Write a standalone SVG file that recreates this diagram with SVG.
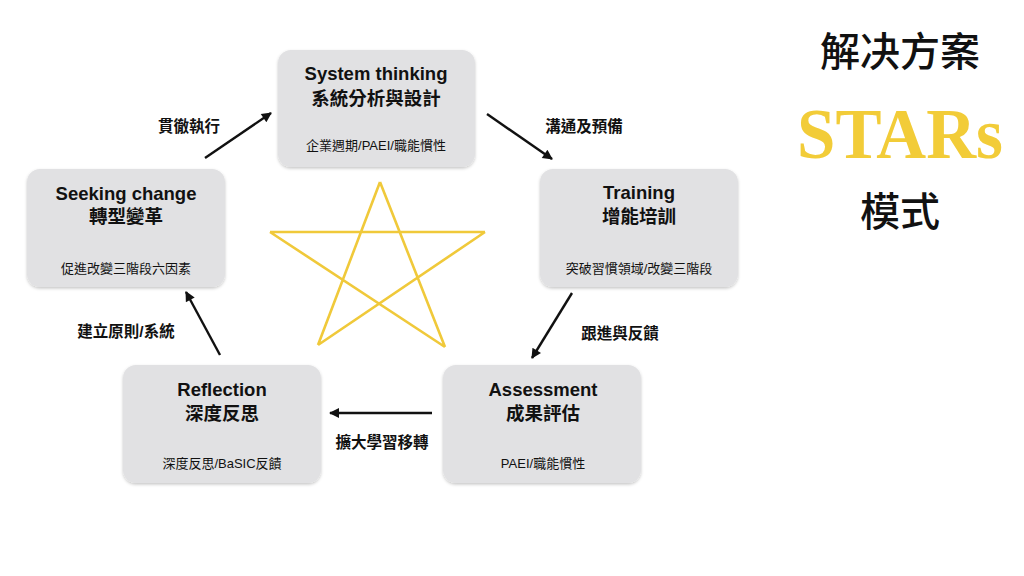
<svg xmlns="http://www.w3.org/2000/svg" width="1024" height="576" viewBox="0 0 1024 576">
<defs>
<filter id="sh" x="-10%" y="-10%" width="120%" height="130%">
<feDropShadow dx="0" dy="1.5" stdDeviation="1.5" flood-color="#000" flood-opacity="0.22"/>
</filter>
<marker id="ah" viewBox="0 0 10 10" refX="9" refY="5" markerWidth="12" markerHeight="10" orient="auto" markerUnits="userSpaceOnUse">
<path d="M0,0 L10,5 L0,10 z" fill="#111"/>
</marker>
</defs>
<style>
.box{fill:#e1e1e3;filter:url(#sh)}
.t{font-family:"Liberation Sans","Noto Sans CJK TC",sans-serif;font-weight:bold;font-size:18.5px;fill:#111;text-anchor:middle}
.s{font-family:"Liberation Sans","Noto Sans CJK TC",sans-serif;font-size:13px;fill:#111;text-anchor:middle}
.l{font-family:"Liberation Sans","Noto Sans CJK TC",sans-serif;font-weight:bold;font-size:15.5px;fill:#111;text-anchor:middle}
.c{stroke:#111;stroke-width:2.4;fill:none}
.star{stroke:#f0c93a;stroke-width:2.6;fill:none;stroke-linejoin:miter}
</style>
<rect width="1024" height="576" fill="#fff"/>

<g id="star">
<path class="star" d="M380,182 L318,345 M380,182 L445,347 M270,232 L485,232 M270,232 L445,347 M485,232 L318,345"/>
</g>

<g id="node-system">
<rect class="box" x="278" y="50" width="197" height="117" rx="13"/>
<text class="t" x="376" y="80">System thinking</text>
<text class="t" x="376" y="105">系統分析與設計</text>
<text class="s" x="376" y="150">企業週期/PAEI/職能慣性</text>
</g>

<g id="node-training">
<rect class="box" x="540" y="169" width="198" height="118" rx="13"/>
<text class="t" x="639" y="199">Training</text>
<text class="t" x="639" y="223">增能培訓</text>
<text class="s" x="639" y="273">突破習慣領域/改變三階段</text>
</g>

<g id="node-assessment">
<rect class="box" x="443" y="365" width="198" height="118" rx="13"/>
<text class="t" x="543" y="396">Assessment</text>
<text class="t" x="543" y="420">成果評估</text>
<text class="s" x="543" y="468">PAEI/職能慣性</text>
</g>

<g id="node-reflection">
<rect class="box" x="123" y="365" width="198" height="118" rx="13"/>
<text class="t" x="222" y="396">Reflection</text>
<text class="t" x="222" y="420">深度反思</text>
<text class="s" x="222" y="468">深度反思/BaSIC反饋</text>
</g>

<g id="node-seeking">
<rect class="box" x="27" y="169" width="198" height="118" rx="13"/>
<text class="t" x="126" y="200">Seeking change</text>
<text class="t" x="126" y="223">轉型變革</text>
<text class="s" x="126" y="273">促進改變三階段六因素</text>
</g>

<g id="connectors">
<line class="c" x1="205" y1="158" x2="271" y2="113" marker-end="url(#ah)"/>
<line class="c" x1="487" y1="114" x2="552" y2="159" marker-end="url(#ah)"/>
<line class="c" x1="572" y1="293" x2="532" y2="358" marker-end="url(#ah)"/>
<line class="c" x1="432" y1="413" x2="330" y2="413" marker-end="url(#ah)"/>
<line class="c" x1="220" y1="355" x2="186" y2="292" marker-end="url(#ah)"/>
<text class="l" x="189" y="132">貫徹執行</text>
<text class="l" x="584" y="132">溝通及預備</text>
<text class="l" x="620" y="339">跟進與反饋</text>
<text class="l" x="382" y="448">擴大學習移轉</text>
<text class="l" x="126" y="337">建立原則/系統</text>
</g>

<g id="title">
<text x="900" y="66" font-family="'Noto Sans CJK TC',sans-serif" font-weight="500" font-size="40" fill="#111" text-anchor="middle">解决方案</text>
<text x="797" y="158" font-family="'Liberation Serif',serif" font-weight="bold" font-size="72" fill="#f2cc38" textLength="206" lengthAdjust="spacingAndGlyphs">STARs</text>
<text x="900" y="226" font-family="'Noto Sans CJK TC',sans-serif" font-weight="500" font-size="40" fill="#111" text-anchor="middle">模式</text>
</g>
</svg>
